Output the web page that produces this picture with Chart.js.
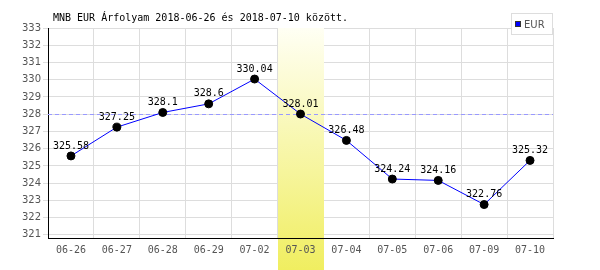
<!DOCTYPE html>
<html>
<head>
<meta charset="utf-8">
<script src="https://cdn.jsdelivr.net/npm/chart.js@4.4.0/dist/chart.umd.min.js"></script>
<style>
  body { margin: 0; background: #fff; }
  #wrap { width: 600px; height: 270px; }
</style>
</head>
<body>
<div id="wrap"><canvas id="chart" width="600" height="270"></canvas></div>
<script>
const labels = ['06-26', '06-27', '06-28', '06-29', '07-02', '07-03', '07-04', '07-05', '07-06', '07-09', '07-10'];
const eur = [325.58, 327.25, 328.1, 328.6, 330.04, 328.01, 326.48, 324.24, 324.16, 322.76, 325.32];
const yTicks = [321, 322, 323, 324, 325, 326, 327, 328, 329, 330, 331, 332, 333];
const avgLine = 328.0;
const highlightIdx = 5;
const title = 'MNB EUR Árfolyam 2018-06-26 és 2018-07-10 között.';

const mono = '"DejaVu Sans Mono", monospace';

// yellow band, dashed line, point labels, title, legend
const extras = {
  id: 'extras',
  beforeDatasetsDraw(chart) {
    const { ctx, chartArea: a, scales: { x, y } } = chart;
    const w = (a.right - a.left) / labels.length;
    const cx = x.getPixelForValue(highlightIdx);
    const g = ctx.createLinearGradient(0, a.top, 0, 270);
    g.addColorStop(0, '#fffff4');
    g.addColorStop(1, '#f0ee60');
    ctx.save();
    ctx.fillStyle = g;
    ctx.fillRect(Math.round(cx - w / 2), a.top, Math.round(w), 270 - a.top);
    // band hides the label, put it back
    ctx.font = '10px ' + mono;
    ctx.fillStyle = '#555';
    ctx.textAlign = 'center';
    ctx.textBaseline = 'middle';
    ctx.fillText(labels[highlightIdx], cx, a.bottom + 12);
    // redraw bottom axis line over the band
    ctx.strokeStyle = '#000';
    ctx.lineWidth = 1;
    ctx.beginPath();
    ctx.moveTo(a.left, Math.round(a.bottom) + 0.5);
    ctx.lineTo(a.right, Math.round(a.bottom) + 0.5);
    ctx.stroke();
    // average dashed line
    const yy = Math.round(y.getPixelForValue(avgLine)) + 0.5;
    ctx.strokeStyle = '#9999ff';
    ctx.setLineDash([4, 3]);
    ctx.beginPath();
    ctx.moveTo(a.left, yy);
    ctx.lineTo(a.right, yy);
    ctx.stroke();
    ctx.restore();
  },
  afterDatasetsDraw(chart) {
    const { ctx } = chart;
    const meta = chart.getDatasetMeta(0);
    ctx.save();
    ctx.font = '10px ' + mono;
    ctx.fillStyle = '#000';
    ctx.textAlign = 'center';
    ctx.textBaseline = 'bottom';
    meta.data.forEach((p, i) => {
      ctx.fillText(String(eur[i]), p.x, p.y - 5);
    });
    ctx.restore();
  },
  afterDraw(chart) {
    const { ctx } = chart;
    ctx.save();
    ctx.font = '10px ' + mono;
    ctx.fillStyle = '#000';
    ctx.textBaseline = 'middle';
    ctx.fillText(title, 53, 18);
    // legend
    ctx.fillStyle = '#fff';
    ctx.fillRect(511, 13, 42, 22);
    ctx.strokeStyle = '#dddddd';
    ctx.strokeRect(511.5, 13.5, 41, 21);
    ctx.fillStyle = '#0000ff';
    ctx.fillRect(515, 21, 6, 6);
    ctx.strokeStyle = '#333';
    ctx.strokeRect(515.5, 21.5, 5, 5);
    ctx.fillStyle = '#555';
    ctx.font = '10px "DejaVu Sans", sans-serif';
    ctx.fillText('EUR', 524, 25);
    ctx.restore();
  }
};

new Chart(document.getElementById('chart'), {
  type: 'line',
  data: {
    labels: labels,
    datasets: [{
      label: 'EUR',
      data: eur,
      borderColor: '#0000ff',
      borderWidth: 1,
      pointBackgroundColor: '#000',
      pointBorderColor: '#000',
      pointRadius: 4,
      tension: 0
    }]
  },
  options: {
    responsive: false,
    animation: false,
    layout: { padding: { top: 28, right: 47, left: 0, bottom: 0 } },
    plugins: { legend: { display: false }, tooltip: { enabled: false } },
    scales: {
      x: {
        offset: true,
        grid: { offset: true, color: '#dddddd', drawTicks: false },
        border: { color: '#000' },
        ticks: { color: '#555', font: { family: mono, size: 10 }, padding: 6, maxRotation: 0, autoSkip: false },
        afterFit(s) { s.height = 32; }
      },
      y: {
        min: 320.82,
        max: 333,
        afterBuildTicks(s) { s.ticks = yTicks.map(v => ({ value: v })); },
        grid: { color: '#dddddd', tickLength: 5 },
        border: { color: '#000' },
        ticks: { color: '#555', font: { family: '"DejaVu Sans", sans-serif', size: 10 }, padding: 2 },
        afterFit(s) { s.width = 48; }
      }
    }
  },
  plugins: [extras]
});
</script>
</body>
</html>
